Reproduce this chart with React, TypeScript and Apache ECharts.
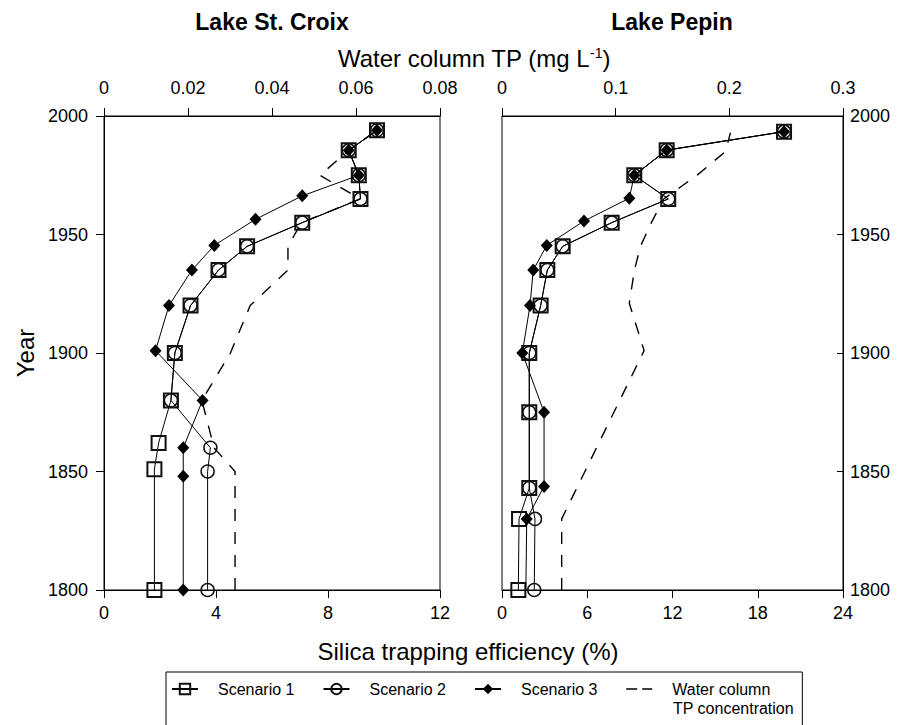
import React, { useEffect, useRef } from "react";
import * as echarts from "echarts";

// ---------- Lake St. Croix (left panel) ----------
const croixS1Year = [1800, 1851, 1862, 1880, 1900, 1920, 1935, 1945, 1955, 1965, 1975, 1985.5, 1994];
const croixS1 = [1.8, 1.8, 1.95, 2.39, 2.53, 3.09, 4.09, 5.11, 7.08, 9.16, 9.1, 8.74, 9.75];
const croixS2Year = [1800, 1850, 1860, 1880, 1900, 1920, 1935, 1945, 1955, 1965, 1975, 1985.5, 1994];
const croixS2 = [3.7, 3.7, 3.8, 2.39, 2.53, 3.09, 4.09, 5.11, 7.08, 9.16, 9.1, 8.74, 9.75];
const croixS3Year = [1800, 1848, 1860, 1880, 1901, 1920, 1935, 1945.4, 1956.4, 1966.3, 1975, 1985.5, 1994];
const croixS3 = [2.83, 2.83, 2.83, 3.52, 1.84, 2.32, 3.14, 3.94, 5.41, 7.08, 9.1, 8.74, 9.75];
const croixTPYear = [1800, 1850, 1860, 1880, 1900, 1920, 1935, 1945, 1955, 1965, 1975, 1985.5, 1994];
const croixTP = [0.0312, 0.0312, 0.0262, 0.0233, 0.0301, 0.0348, 0.0438, 0.0438, 0.047, 0.061, 0.0514, 0.0583, 0.065];

// ---------- Lake Pepin (right panel) ----------
const pepinS1Year = [1800, 1830, 1843, 1875, 1900, 1920, 1935, 1945, 1955, 1965, 1975, 1985.6, 1993.4];
const pepinS1 = [1.15, 1.2, 1.92, 1.92, 1.92, 2.72, 3.19, 4.27, 7.72, 11.7, 9.31, 11.59, 19.85];
const pepinS2Year = [1800, 1830, 1843, 1875, 1900, 1920, 1935, 1945, 1955, 1965, 1975, 1985.6, 1993.4];
const pepinS2 = [2.27, 2.32, 1.92, 1.92, 1.92, 2.72, 3.19, 4.27, 7.72, 11.7, 9.31, 11.59, 19.85];
const pepinS3Year = [1800, 1830, 1843.7, 1875, 1900, 1920, 1935, 1945.4, 1955.7, 1965.3, 1975, 1985.6, 1993.4];
const pepinS3 = [1.68, 1.74, 2.96, 2.96, 1.43, 1.97, 2.2, 3.15, 5.77, 8.96, 9.31, 11.59, 19.85];
const pepinTPYear = [1800, 1830, 1901, 1921, 1935, 1945, 1955, 1965, 1975, 1985, 1993];
const pepinTP = [0.0525, 0.0525, 0.125, 0.112, 0.1165, 0.1218, 0.1314, 0.1423, 0.1715, 0.1966, 0.201];

// ---------- axis ticks / labels ----------
const yearMin = 1800;
const yearMax = 2000;
const yearStep = 50;
const croixEffMax = 12;
const croixEffStep = 4;
const pepinEffMax = 24;
const pepinEffStep = 6;
const croixTPMax = 0.08;
const croixTPStep = 0.02;
const pepinTPMax = 0.3;
const pepinTPStep = 0.1;

const names = ["Scenario 1", "Scenario 2", "Scenario 3", "Water column\nTP concentration"];

const FONT = "'Liberation Sans', Arial, Helvetica, sans-serif";

const pairs = (xs: number[], ys: number[]) => xs.map((x, i) => [x, ys[i]]);

export default function App() {
  const ref = useRef<HTMLDivElement>(null);
  useEffect(() => {
    if (!ref.current) return;
    const chart = echarts.init(ref.current, null, { renderer: "svg" });

    const axisCommon = {
      type: "value",
      axisLine: { show: true, onZero: false, lineStyle: { color: "#000", width: 1 } },
      axisTick: { show: true, length: 8, lineStyle: { color: "#000" } },
      splitLine: { show: false },
      axisLabel: { color: "#000", fontSize: 18, fontFamily: FONT },
    };

    const sqStyle = { color: "rgba(0,0,0,0)", borderColor: "#111", borderWidth: 2 };
    const ciStyle = { color: "rgba(0,0,0,0)", borderColor: "#111", borderWidth: 1.5 };
    const diStyle = { color: "#000", borderColor: "#000", borderWidth: 0 };
    const lineSt = { color: "#000", width: 1 };

    const mk = (name: string, data: any[], xi: number, yi: number, symbol: string, size: any, itemStyle: any, z: number) => ({
      name,
      type: "line",
      xAxisIndex: xi,
      yAxisIndex: yi,
      data,
      symbol,
      symbolSize: size,
      showSymbol: true,
      itemStyle,
      lineStyle: lineSt,
      z,
    });

    const tpSeries = (data: any[], xi: number, yi: number) => ({
      name: names[3],
      type: "line",
      xAxisIndex: xi,
      yAxisIndex: yi,
      data,
      showSymbol: false,
      symbol: "none",
      itemStyle: { color: "#000" },
      lineStyle: { color: "#000", width: 1.4, type: [12, 11] },
      z: 1,
    });

    const pepinS3Data = pairs(pepinS3, pepinS3Year).map((p, i) => (i === 0 ? { value: p, symbol: "none" } : p));

    chart.setOption({
      animation: false,
      backgroundColor: "#fff",
      textStyle: { fontFamily: FONT },
      grid: [
        { left: 104, top: 116, width: 336, height: 474, show: true, borderColor: "#000", borderWidth: 1, backgroundColor: "transparent" },
        { left: 502, top: 116, width: 341, height: 474, show: true, borderColor: "#000", borderWidth: 1, backgroundColor: "transparent" },
      ],
      xAxis: [
        { ...axisCommon, gridIndex: 0, position: "bottom", min: 0, max: croixEffMax, interval: croixEffStep, axisLabel: { ...axisCommon.axisLabel, margin: 14 } },
        { ...axisCommon, gridIndex: 0, position: "top", min: 0, max: croixTPMax, interval: croixTPStep,
          axisLabel: { ...axisCommon.axisLabel, margin: 19, formatter: (v: number) => (v === 0 ? "0" : v.toFixed(2)) } },
        { ...axisCommon, gridIndex: 1, position: "bottom", min: 0, max: pepinEffMax, interval: pepinEffStep, axisLabel: { ...axisCommon.axisLabel, margin: 14 } },
        { ...axisCommon, gridIndex: 1, position: "top", min: 0, max: pepinTPMax, interval: pepinTPStep,
          axisLabel: { ...axisCommon.axisLabel, margin: 19, formatter: (v: number) => (v === 0 ? "0" : v.toFixed(1)) } },
      ],
      yAxis: [
        { ...axisCommon, gridIndex: 0, position: "left", min: yearMin, max: yearMax, interval: yearStep,
          axisLabel: { ...axisCommon.axisLabel, margin: 16, formatter: (v: number) => String(v) } },
        { ...axisCommon, gridIndex: 1, position: "right", min: yearMin, max: yearMax, interval: yearStep,
          axisTick: { show: true, inside: true, length: 6, lineStyle: { color: "#000" } },
          axisLabel: { ...axisCommon.axisLabel, margin: 7, formatter: (v: number) => String(v) } },
      ],
      legend: {
        data: [
          names[0],
          names[1],
          names[2],
          { name: names[3], itemStyle: { opacity: 0 }, lineStyle: { type: [11, 5], width: 1.5 } },
        ],
        left: 166,
        top: 672,
        orient: "horizontal",
        borderColor: "#000",
        borderWidth: 1,
        padding: [7, 32, 40, 5],
        itemGap: 28,
        itemWidth: 26,
        itemHeight: 13,
        formatter: (n: string) => n.split("\n")[0],
        textStyle: { color: "#000", fontSize: 16, fontFamily: FONT, padding: [0, 0, 0, 15], lineHeight: 20 },
      },
      series: [
        tpSeries(pairs(croixTP, croixTPYear), 1, 0),
        mk(names[0], pairs(croixS1, croixS1Year), 0, 0, "rect", 14, sqStyle, 3),
        mk(names[1], pairs(croixS2, croixS2Year), 0, 0, "circle", 13, ciStyle, 4),
        mk(names[2], pairs(croixS3, croixS3Year), 0, 0, "diamond", [12, 13], diStyle, 5),
        tpSeries(pairs(pepinTP, pepinTPYear), 3, 1),
        mk(names[0], pairs(pepinS1, pepinS1Year), 2, 1, "rect", 14, sqStyle, 3),
        mk(names[1], pairs(pepinS2, pepinS2Year), 2, 1, "circle", 13, ciStyle, 4),
        mk(names[2], pepinS3Data, 2, 1, "diamond", [12, 13], diStyle, 5),
      ],
      graphic: [
        { type: "text", x: 272, y: 22, style: { text: "Lake St. Croix", font: `bold 23px ${FONT}`, fill: "#000", align: "center", verticalAlign: "middle" } },
        { type: "text", x: 672, y: 22, style: { text: "Lake Pepin", font: `bold 23px ${FONT}`, fill: "#000", align: "center", verticalAlign: "middle" } },
        {
          type: "text", x: 474, y: 58,
          style: {
            text: "{m|Water column TP (mg L}{s|-1}{m|)}",
            align: "center", verticalAlign: "middle",
            rich: {
              m: { fontSize: 24, fontFamily: FONT, fill: "#000", lineHeight: 28, verticalAlign: "middle" },
              s: { fontSize: 14, fontFamily: FONT, fill: "#000", lineHeight: 28, verticalAlign: "top", padding: [2, 0, 0, 0] },
            },
          },
        },
        { type: "text", x: 468, y: 651, style: { text: "Silica trapping efficiency (%)", font: `24px ${FONT}`, fill: "#000", align: "center", verticalAlign: "middle" } },
        { type: "text", x: 25, y: 353, rotation: Math.PI / 2, style: { text: "Year", font: `24px ${FONT}`, fill: "#000", align: "center", verticalAlign: "middle" } },
        { type: "text", x: 673, y: 708, style: { text: "TP concentration", font: `16px ${FONT}`, fill: "#000", align: "left", verticalAlign: "middle" } },
      ],
    });
    return () => chart.dispose();
  }, []);
  return <div ref={ref} style={{ position: "absolute", left: 0, top: 0, width: 913, height: 725, background: "#fff" }} />;
}
